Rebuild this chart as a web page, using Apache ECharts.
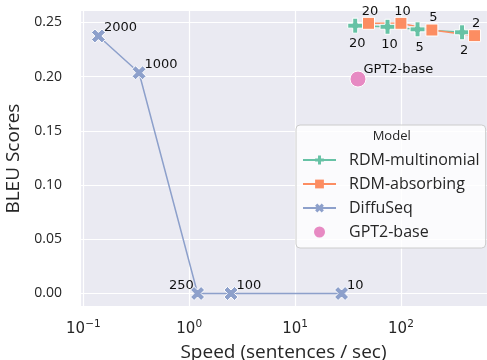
<!DOCTYPE html>
<html>
<head>
<meta charset="utf-8">
<script src="https://cdn.jsdelivr.net/npm/echarts@6/dist/echarts.min.js"></script>
<style>
html,body{margin:0;padding:0;background:#fff;}
#chart{width:487px;height:360px;}
</style>
</head>
<body>
<div id="chart"></div>
<script>
// ---- data ----
const multinomialSpeed = [37.0, 74.7, 143.5, 378];
const multinomialBleu  = [0.2469, 0.2459, 0.2435, 0.2408];
const multinomialSteps = ['20', '10', '5', '2'];

const absorbingSpeed = [49.4, 100, 196, 496];
const absorbingBleu  = [0.2491, 0.2491, 0.2429, 0.2377];
const absorbingSteps = ['20', '10', '5', '2'];

const diffuseqSpeed = [0.1387, 0.336, 1.2, 2.48, 27.5];
const diffuseqBleu  = [0.2374, 0.2035, 0, 0, 0];
const diffuseqSteps = ['2000', '1000', '250', '100', '10'];

const gptSpeed = [39.3];
const gptBleu  = [0.1977];
const gptNames = ['GPT2-base'];

const seriesNames = ['RDM-multinomial', 'RDM-absorbing', 'DiffuSeq', 'GPT2-base'];
const legendTitle = 'Model';
const xAxisTitle = 'Speed (sentences / sec)';
const yAxisTitle = 'BLEU Scores';

// ---- styles ----
const colors = ['#66c2a5', '#fc8d62', '#8da0cb', '#e78ac3'];
const txt = '#262626';
const annFont = {fontFamily: 'DejaVu Sans', fontSize: 13, color: '#111'};
const plusPath = 'path://M2,0 H4 V2 H6 V4 H4 V6 H2 V4 H0 V2 H2 Z';
const xPath = 'path://M-1.414,2.828 L0,1.414 L1.414,2.828 L2.828,1.414 L1.414,0 L2.828,-1.414 L1.414,-2.828 L0,-1.414 L-1.414,-2.828 L-2.828,-1.414 L-1.414,0 L-2.828,1.414 Z';

function pts(xs, ys, labels, labelFn) {
  return xs.map((x, i) => ({value: [x, ys[i]], label: labelFn(labels[i], i)}));
}

const supMap = {'-1': '\u22121', '0': '0', '1': '1', '2': '2', '3': '3'};

const option = {
  animation: false,
  backgroundColor: '#ffffff',
  grid: {left: 80, right: 0, top: 10.5, bottom: 53.3, show: true, backgroundColor: '#eaeaf2', borderWidth: 0,
         containLabel: false, outerBoundsMode: 'none'},
  xAxis: {
    type: 'log', logBase: 10, min: 0.093, max: 650,
    name: xAxisTitle, nameLocation: 'middle', nameGap: 36,
    nameTextStyle: {fontFamily: 'Open Sans', fontSize: 19, color: txt},
    axisLine: {show: false}, axisTick: {show: false}, minorTick: {show: false},
    splitLine: {show: true, lineStyle: {color: '#ffffff', width: 1.2}},
    axisLabel: {
      margin: 12, showMinLabel: false, showMaxLabel: false,
      formatter: function (v) {
        const e = Math.log10(v);
        const r = Math.round(e);
        if (Math.abs(e - r) > 1e-6) return '';
        return '{b|10}{s|' + (supMap[String(r)] || String(r)) + '}';
      },
      rich: {
        b: {fontFamily: 'DejaVu Sans', fontSize: 15, color: txt, lineHeight: 18, verticalAlign: 'bottom'},
        s: {fontFamily: 'DejaVu Sans', fontSize: 10.5, color: txt, lineHeight: 18, verticalAlign: 'top'}
      }
    }
  },
  yAxis: {
    type: 'value', min: -0.01217, max: 0.2609, splitNumber: 5,
    name: yAxisTitle, nameLocation: 'middle', nameGap: 52,
    nameTextStyle: {fontFamily: 'Open Sans', fontSize: 19, color: txt},
    axisLine: {show: false}, axisTick: {show: false},
    splitLine: {show: true, lineStyle: {color: '#ffffff', width: 1.2}},
    axisLabel: {
      margin: 18, showMinLabel: false, showMaxLabel: false,
      fontFamily: 'Open Sans', fontSize: 14, color: txt,
      formatter: v => v.toFixed(2)
    }
  },
  legend: {
    orient: 'vertical', left: 296, top: 125,
    data: seriesNames,
    padding: [27, 6, 8, 6],
    itemWidth: 33, itemHeight: 11, itemGap: 8,
    itemStyle: {borderWidth: 0},
    backgroundColor: 'rgba(255,255,255,0.8)',
    borderColor: '#cccccc', borderWidth: 1, borderRadius: 4,
    textStyle: {fontFamily: 'Open Sans', fontSize: 16, color: txt, lineHeight: 16, padding: [0, 0, 0, 8]}
  },
  graphic: [{
    type: 'text', x: 391.7, y: 136.7, z: 100,
    style: {text: legendTitle, fontFamily: 'Open Sans', fontSize: 13, fill: txt, align: 'center', verticalAlign: 'middle'}
  }],
  series: [
    {
      name: seriesNames[0], type: 'line', color: colors[0],
      symbol: plusPath, symbolSize: 15,
      lineStyle: {width: 1.5, color: colors[0]},
      itemStyle: {color: colors[0], borderColor: '#fff', borderWidth: 1},
      data: pts(multinomialSpeed, multinomialBleu, multinomialSteps, (t) => ({
        show: true, formatter: t, position: 'bottom', distance: 3.6, offset: [2, 0], ...annFont
      }))
    },
    {
      name: seriesNames[1], type: 'line', color: colors[1],
      symbol: 'rect', symbolSize: 12,
      lineStyle: {width: 1.5, color: colors[1]},
      itemStyle: {color: colors[1], borderColor: '#fff', borderWidth: 1},
      data: pts(absorbingSpeed, absorbingBleu, absorbingSteps, (t) => ({
        show: true, formatter: t, position: 'top', distance: 0, offset: [1.5, 1], ...annFont
      }))
    },
    {
      name: seriesNames[2], type: 'line', color: colors[2],
      symbol: xPath, symbolSize: 14,
      lineStyle: {width: 1.5, color: colors[2]},
      itemStyle: {color: colors[2], borderColor: '#fff', borderWidth: 1},
      data: pts(diffuseqSpeed, diffuseqBleu, diffuseqSteps, (t) => (t === '250'
        ? {show: true, formatter: t, position: 'left', distance: 0, offset: [3.7, -8], ...annFont}
        : {show: true, formatter: t, position: 'right', distance: 0, offset: [-2, -8], ...annFont}))
    },
    {
      name: seriesNames[3], type: 'scatter', color: colors[3],
      symbol: 'circle', symbolSize: 16,
      itemStyle: {color: colors[3], borderColor: '#fff', borderWidth: 1, opacity: 1},
      data: pts(gptSpeed, gptBleu, gptNames, (t) => ({
        show: true, formatter: t, position: 'right', distance: 0, offset: [-3, -9], ...annFont
      }))
    }
  ]
};

const chart = echarts.init(document.getElementById('chart'), null, {renderer: 'canvas'});
chart.setOption(option);
</script>
</body>
</html>
